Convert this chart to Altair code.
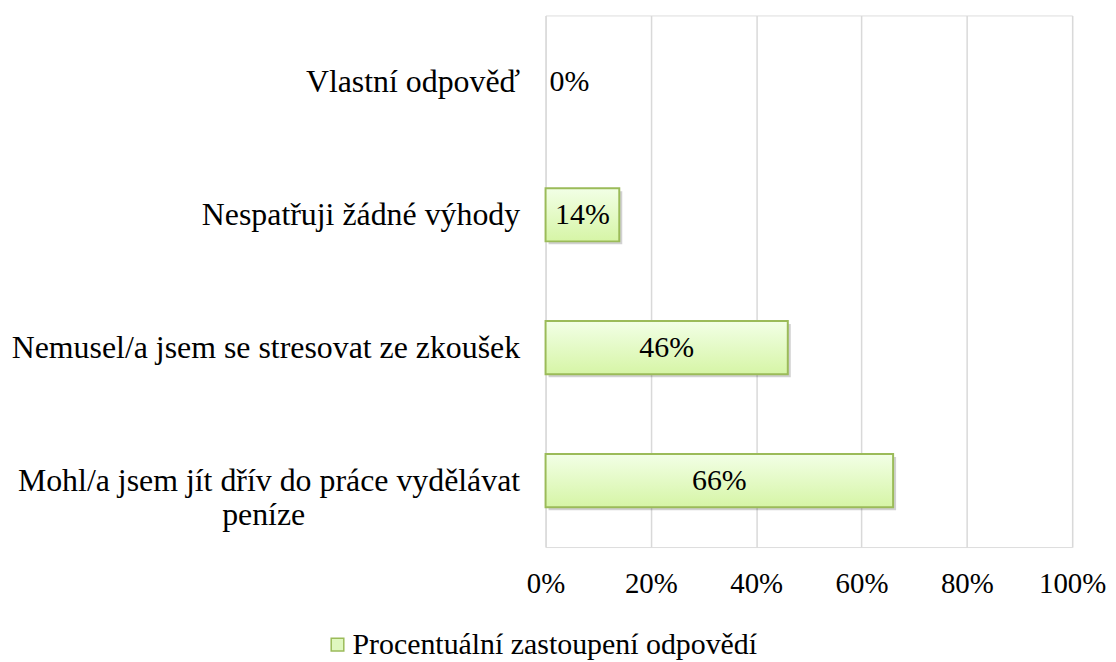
import json
import altair as alt
import pandas as pd

categories = [
    "Vlastní odpověď",
    "Nespatřuji žádné výhody",
    "Nemusel/a jsem se stresovat ze zkoušek",
    "Mohl/a jsem jít dřív do práce vydělávat peníze",
]
values = [0.0, 0.14, 0.46, 0.66]
series_name = "Procentuální zastoupení odpovědí"
x_ticks = [0, 0.2, 0.4, 0.6, 0.8, 1.0]

df = pd.DataFrame({"kategorie": categories, "hodnota": values, "serie": series_name})
df["popisek"] = [f"{round(v * 100)}%" for v in values]
df["polovina"] = df["hodnota"] / 2

FONT = "'Liberation Serif', 'Times New Roman', Times, 'DejaVu Serif', serif"
FS_CAT = 32
FS_TICK = 29
FS_BAR = 30
FS_LEG = 30

long_label = categories[3]
line1 = "Mohl/a jsem jít dřív do práce vydělávat"
line2 = "peníze" + "\u00a0" * 27 + "\u200b"
label_expr = (
    f"datum.value == {json.dumps(long_label)} ? "
    f"[{json.dumps(line1)}, {json.dumps(line2)}] : datum.label"
)

y_enc = alt.Y(
    "kategorie:N",
    sort=categories,
    scale=alt.Scale(paddingInner=0.6, paddingOuter=0.3),
    axis=alt.Axis(
        title=None,
        domain=False,
        ticks=False,
        grid=False,
        labelFont=FONT,
        labelFontSize=FS_CAT,
        labelColor="#000000",
        labelPadding=26,
        labelLimit=800,
        labelLineHeight=35,
        labelExpr=label_expr,
    ),
)
x_scale = alt.Scale(domain=[0, 1], nice=False)
x_enc = alt.X(
    "hodnota:Q",
    scale=x_scale,
    axis=alt.Axis(
        title=None,
        format=".0%",
        values=x_ticks,
        domain=False,
        ticks=False,
        grid=True,
        gridColor="#d9d9d9",
        gridWidth=1.5,
        labelFont=FONT,
        labelFontSize=FS_TICK,
        labelColor="#000000",
        labelPadding=23,
        labelFlush=False,
    ),
)

base = alt.Chart(df)
nonzero = base.transform_filter("datum.hodnota > 0")

shadow = nonzero.mark_bar(color="#000000", opacity=0.18, xOffset=3, yOffset=3).encode(
    x=x_enc, y=y_enc
)

grad = alt.Gradient(
    gradient="linear",
    stops=[
        alt.GradientStop(color="#f2ffe6", offset=0),
        alt.GradientStop(color="#d6f5a6", offset=1),
    ],
    x1=0, x2=0, y1=0, y2=1,
)
bars = nonzero.mark_bar(fill=grad, stroke="#9bbb59", strokeWidth=2).encode(
    x=x_enc, y=y_enc
)

legend_layer = base.mark_square(size=0).encode(
    x=alt.X("hodnota:Q", scale=x_scale),
    y=alt.Y("kategorie:N", sort=categories),
    color=alt.Color(
        "serie:N",
        scale=alt.Scale(range=["#dff7bf"]),
        legend=alt.Legend(
            title=None,
            orient="none",
            legendX=-224,
            legendY=617,
            symbolType="square",
            symbolSize=160,
            symbolStrokeColor="#9bbb59",
            symbolStrokeWidth=1.5,
            symbolOpacity=1,
            labelFont=FONT,
            labelFontSize=FS_LEG,
            labelColor="#000000",
            labelLimit=800,
            labelOffset=0,
        ),
    ),
)

labels_in = nonzero.mark_text(
    font=FONT, fontSize=FS_BAR, color="#000000", align="center", baseline="middle"
).encode(
    x=alt.X("polovina:Q", scale=x_scale),
    y=alt.Y("kategorie:N", sort=categories),
    text="popisek:N",
)
labels_zero = base.transform_filter("datum.hodnota == 0").mark_text(
    font=FONT, fontSize=FS_BAR, color="#000000", align="left", baseline="middle", dx=4
).encode(
    x=alt.X("hodnota:Q", scale=x_scale),
    y=alt.Y("kategorie:N", sort=categories),
    text="popisek:N",
)

chart = (
    alt.layer(shadow, bars, labels_in, labels_zero, legend_layer)
    .properties(
        width=529,
        height=534,
        autosize=alt.AutoSizeParams(type="none"),
        padding={"left": 540, "top": 6, "right": 36, "bottom": 113},
    )
    .configure_view(stroke=None)
    .configure(background="#ffffff")
)

chart.save("out.html", embed_options={"renderer": "svg", "actions": False})
